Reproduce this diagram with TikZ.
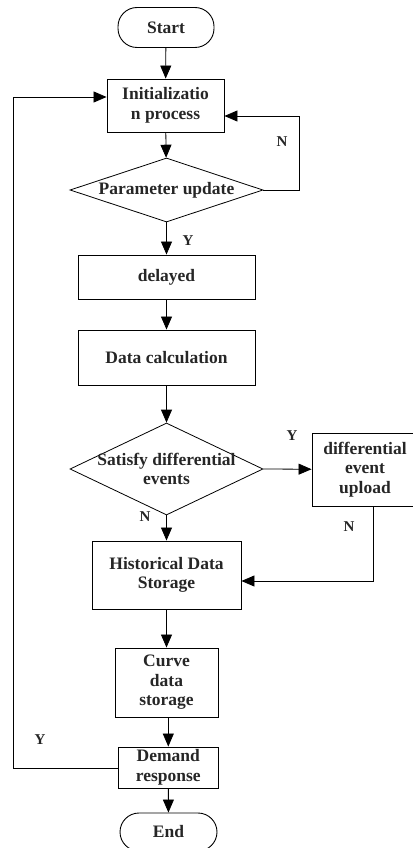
\documentclass[tikz,border=0pt]{standalone}
\usepackage{fontspec}
\setmainfont{Liberation Serif}
\usetikzlibrary{arrows.meta,shapes.geometric}
\begin{document}
\begin{tikzpicture}[x=1pt,y=-1pt,
  every node/.style={font=\bfseries\fontsize{17.5}{19.5}\selectfont, align=center, text=black!85},
  box/.style={draw, line width=0.9pt, inner sep=0pt},
  term/.style={draw, line width=0.9pt, inner sep=0pt, rounded corners=19pt},
  dec/.style={draw, diamond, line width=0.8pt, inner sep=0pt},
  lbl/.style={font=\bfseries\fontsize{15}{17}\selectfont},
  arr/.style={line width=0.8pt, -{Triangle[length=13pt,width=11pt]}},
  ln/.style={line width=0.8pt}]
\useasboundingbox (0,0) rectangle (412,848);
\node[term, minimum width=96pt, minimum height=40pt] (start) at (166,27.5) {Start};
\node[box, minimum width=117pt, minimum height=53pt] (init) at (165.5,105.5) {Initializatio\\n process};
\node[dec, minimum width=193pt, minimum height=64pt] (param) at (166.5,190) {};
\node at (param.center) {Parameter update};
\node[box, minimum width=177pt, minimum height=44pt] (delay) at (166.5,277) {delayed};
\node[box, minimum width=177pt, minimum height=55pt] (calc) at (166.5,357.5) {Data calculation};
\node[dec, minimum width=193pt, minimum height=92pt] (sat) at (166.5,469) {};
\node at (sat.center) {Satisfy differential\\events};
\node[box, minimum width=106pt, minimum height=73pt] (diff) at (365,469.5) {differential\\event\\upload};
\node[box, minimum width=149pt, minimum height=68pt] (hist) at (166.5,575) {Historical Data\\Storage};
\node[box, minimum width=103pt, minimum height=69pt] (curve) at (166.5,682.5) {Curve\\data\\storage};
\node[box, minimum width=100pt, minimum height=41pt] (dem) at (168.3,767.5) {Demand\\response};
\node[term, minimum width=97pt, minimum height=38pt] (end) at (168.5,832) {End};
\coordinate (nr1) at (299,190);
\coordinate (nr2) at (299,116);
\coordinate (yl1) at (13,768);
\coordinate (yl2) at (13,97);
\coordinate (nd1) at (373,581);
\draw[arr] (start) -- (init);
\draw[arr] (init) -- (param);
\draw[arr] (param.south) -- (delay);
\draw[arr] (delay) -- (calc);
\draw[arr] (calc) -- (sat.north);
\draw[arr] (sat.east) -- (diff);
\draw[arr] (sat.south) -- (hist);
\draw[arr] (hist) -- (curve);
\draw[arr] (curve.south -| 168.3,0) -- (dem);
\draw[arr] (dem) -- (end);
\draw[arr] (param.east) -- (nr1) -- (nr2) -- (init.east |- nr2);
\draw[arr] (dem.west |- yl1) -- (yl1) -- (yl2) -- (init.west |- yl2);
\draw[arr] (diff.south -| nd1) -- (nd1) -- (hist.east |- nd1);
\node[lbl] (ln1) at (282,142) {N};
\node[lbl] (ly1) at (188,241) {Y};
\node[lbl] (ly2) at (292,436) {Y};
\node[lbl] (ln2) at (145,517) {N};
\node[lbl] (ln3) at (349,527) {N};
\node[lbl] (ly3) at (40,740) {Y};
\end{tikzpicture}
\end{document}
